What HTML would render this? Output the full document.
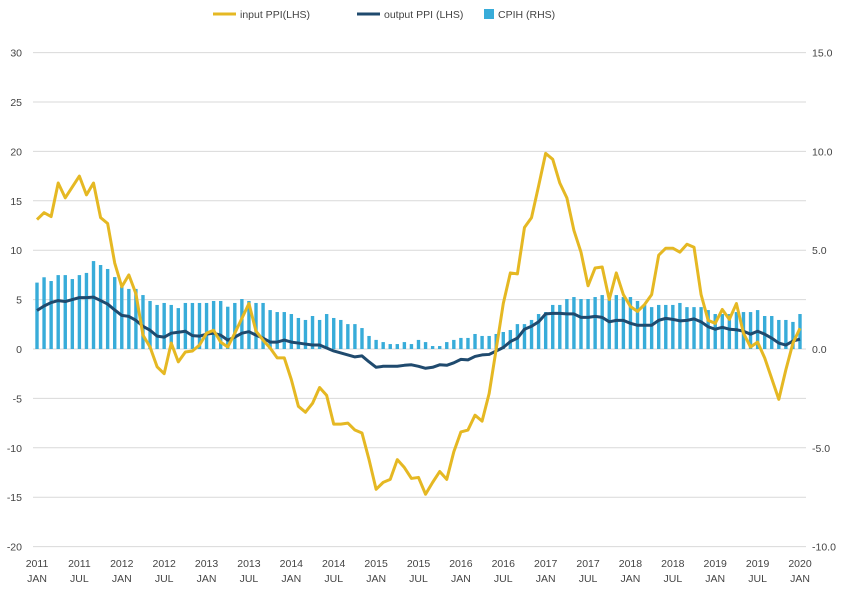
<!DOCTYPE html>
<html><head><meta charset="utf-8"><style>
body{margin:0;background:#fff;width:846px;height:590px;overflow:hidden;font-family:"Liberation Sans",sans-serif}
text{font-family:"Liberation Sans",sans-serif;fill:#444}
</style></head><body>
<svg id="chart" width="846" height="590" xmlns="http://www.w3.org/2000/svg">
<g id="grid"></g>
<g id="bars"></g>
<g id="lines"></g>
<g id="axes"></g>
<g>
<g><line x1="213" y1="14" x2="236" y2="14" stroke="#e5b823" stroke-width="3"/><text x="240" y="18" font-size="10.5">input PPI(LHS)</text></g>
<g><line x1="357" y1="14" x2="380" y2="14" stroke="#1f4a6e" stroke-width="3"/><text x="384" y="18" font-size="10.5">output PPI (LHS)</text></g>
<g><rect x="484" y="9" width="10" height="10" fill="#38acd9"/><text x="498" y="18" font-size="10.5">CPIH (RHS)</text></g>
</g>
</svg>
<script>
const inputPPI=[13.1,13.8,13.4,16.8,15.3,16.4,17.5,15.6,16.8,13.3,12.7,8.7,6.3,7.5,5.6,1.4,0.2,-1.8,-2.5,0.6,-1.3,-0.3,-0.2,0.4,1.6,1.9,0.7,0.2,1.6,3.1,4.6,1.8,0.9,0.1,-0.9,-0.9,-3.1,-5.8,-6.4,-5.5,-3.9,-4.7,-7.6,-7.6,-7.5,-8.2,-8.5,-11.2,-14.2,-13.5,-13.2,-11.2,-12.0,-13.1,-13.0,-14.7,-13.5,-12.4,-13.2,-10.4,-8.4,-8.2,-6.7,-7.3,-4.5,0,4.6,7.7,7.6,12.3,13.3,16.5,19.8,19.2,16.8,15.3,12.0,9.8,6.4,8.2,8.3,5.0,7.7,5.5,4.3,3.8,4.5,5.5,9.5,10.2,10.2,9.8,10.6,10.3,5.5,2.9,2.6,4.0,3.0,4.6,1.6,0.2,0.7,-0.9,-3.0,-5.1,-2.1,0.6,2.1];
const outputPPI=[3.9,4.35,4.7,4.9,4.8,5.0,5.2,5.2,5.25,4.9,4.55,3.95,3.4,3.3,2.9,2.3,1.9,1.3,1.2,1.6,1.7,1.8,1.35,1.3,1.5,1.6,1.4,0.9,1.2,1.6,1.75,1.4,1.1,0.7,0.7,0.9,0.7,0.6,0.5,0.4,0.4,0.1,-0.2,-0.4,-0.6,-0.8,-0.7,-1.3,-1.85,-1.75,-1.75,-1.75,-1.65,-1.6,-1.75,-1.95,-1.85,-1.6,-1.65,-1.4,-1.05,-1.1,-0.75,-0.6,-0.55,-0.2,0.15,0.75,1.1,2.0,2.3,2.75,3.55,3.6,3.6,3.55,3.55,3.2,3.2,3.3,3.2,2.75,2.9,2.9,2.6,2.4,2.4,2.4,2.9,3.1,3.0,2.85,2.9,3.05,2.75,2.25,2.0,2.2,2.0,1.95,1.8,1.5,1.8,1.5,1.1,0.6,0.4,0.8,1.0];
const cpih=[3.36,3.63,3.44,3.74,3.74,3.54,3.74,3.85,4.45,4.25,4.05,3.64,3.15,3.04,3.04,2.73,2.43,2.23,2.33,2.23,2.07,2.33,2.33,2.33,2.33,2.43,2.43,2.14,2.33,2.53,2.43,2.33,2.33,1.97,1.87,1.87,1.77,1.57,1.47,1.67,1.47,1.77,1.57,1.47,1.26,1.26,1.06,0.66,0.46,0.35,0.25,0.25,0.35,0.25,0.46,0.35,0.15,0.15,0.35,0.46,0.56,0.56,0.76,0.66,0.66,0.76,0.86,0.96,1.26,1.26,1.47,1.77,1.87,2.23,2.23,2.53,2.63,2.53,2.53,2.63,2.73,2.53,2.73,2.63,2.63,2.43,2.23,2.12,2.23,2.23,2.23,2.33,2.12,2.12,2.12,1.97,1.77,1.77,1.77,1.87,1.87,1.87,1.97,1.67,1.67,1.47,1.47,1.37,1.77];
const leftTicks=[30,25,20,15,10,5,0,-5,-10,-15,-20];
const rightTicks=["15.0","10.0","5.0","0.0","-5.0","-10.0"];
const years=["2011","2011","2012","2012","2013","2013","2014","2014","2015","2015","2016","2016","2017","2017","2018","2018","2019","2019","2020"];
const months=["JAN","JUL"];
const NS="http://www.w3.org/2000/svg";
const x=i=>37+i*(763/108);
const yL=v=>349-v*9.88;
const yR=v=>349-v*19.76;
function mk(tag,attrs,parent){const e=document.createElementNS(NS,tag);for(const k in attrs)e.setAttribute(k,attrs[k]);parent.appendChild(e);return e;}
const grid=document.getElementById('grid'),axes=document.getElementById('axes'),bars=document.getElementById('bars'),lines=document.getElementById('lines');
leftTicks.forEach(v=>{
  const l=mk('line',{x1:33,x2:806,y1:yL(v),y2:yL(v),stroke:'#d9d9d9','stroke-width':1},grid);
  
  
  const t=mk('text',{x:22,y:yL(v)+4,'font-size':10.5,'text-anchor':'end'},axes);t.textContent=v;
  
  
});
rightTicks.forEach((s,k)=>{
  const v=parseFloat(s);
  const t=mk('text',{x:812,y:yR(v)+4,'font-size':10.5,'text-anchor':'start'},axes);t.textContent=s;
  
  
});
years.forEach((yr,k)=>{
  const xx=x(k*6);
  const t1=mk('text',{x:xx,y:567,'font-size':10.5,'text-anchor':'middle'},axes);t1.textContent=yr;
  
  
  const t2=mk('text',{x:xx,y:582,'font-size':10.5,'text-anchor':'middle'},axes);t2.textContent=months[k%2];
  
  
});
cpih.forEach((v,i)=>{
  const y0=yR(0),y1=yR(v);
  const r=mk('rect',{x:x(i)-1.7,y:Math.min(y0,y1),width:3.4,height:Math.abs(y0-y1),fill:'#38acd9'},bars);
  
  
});
function line(arr,col,name){
  const p=mk('polyline',{points:arr.map((v,i)=>x(i)+','+yL(v)).join(' '),fill:'none',stroke:col,'stroke-width':3,'stroke-linejoin':'round'},lines);
  
  
}
line(outputPPI,'#1f4a6e','output-ppi-line');
line(inputPPI,'#e5b823','input-ppi-line');
</script>
</body></html>
